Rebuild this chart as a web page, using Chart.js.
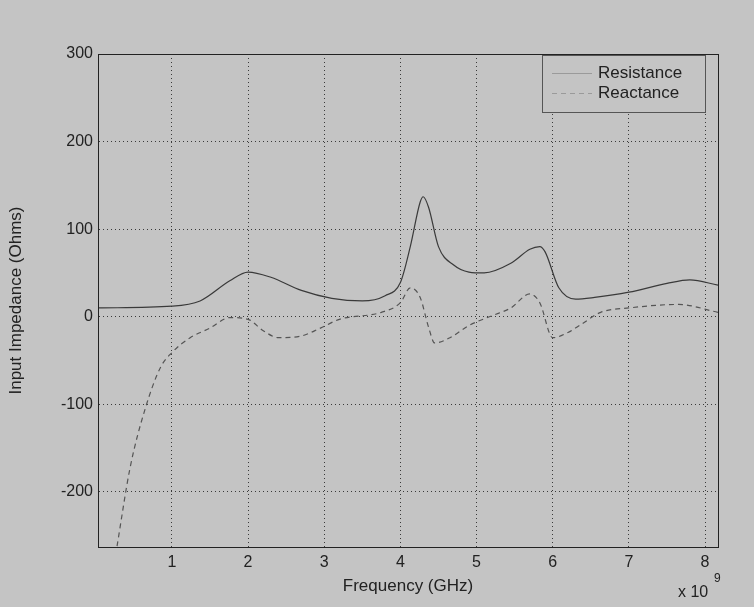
<!DOCTYPE html>
<html>
<head>
<meta charset="utf-8">
<script src="https://cdn.jsdelivr.net/npm/chart.js@4"></script>
<style>
  html, body { margin: 0; padding: 0; background: #c4c4c4; }
  #wrap { width: 754px; height: 607px; }
</style>
</head>
<body>
<div id="wrap"><canvas id="impChart" width="754" height="607"></canvas></div>
<script>
// Frequency in GHz (axis shows x 10^9 Hz)
const resFreq = [0.03, 1.0, 1.37, 1.76, 2.0, 2.3, 2.7, 3.1, 3.5, 3.8, 4.0, 4.13, 4.26, 4.3, 4.37, 4.5, 4.7, 4.9, 5.1, 5.45, 5.7, 5.83, 5.9, 6.08, 6.3, 6.55, 7.0, 7.5, 7.8, 8.17];
const resistance = [10, 12, 18, 41, 51, 45, 30, 21, 18, 24, 39, 80, 131, 137, 125, 80, 59, 51, 50, 61, 77, 80, 74, 33, 20, 22, 28, 38, 42, 36];

const reacFreq = [0.28, 0.45, 0.65, 0.85, 1.0, 1.24, 1.5, 1.76, 2.0, 2.2, 2.4, 2.7, 2.95, 3.2, 3.75, 4.0, 4.13, 4.26, 4.37, 4.45, 4.65, 4.9, 5.2, 5.45, 5.7, 5.83, 6.0, 6.2, 6.37, 6.63, 7.0, 7.65, 8.17];
const reactance = [-262, -173, -105, -58, -41, -24, -13, -1, -3, -16, -24, -22, -13, -3, 5, 16, 33, 22, -12, -30, -24, -10, 1, 10, 26, 16, -24, -18, -9, 5, 10, 14, 5];

const xTicks = [1, 2, 3, 4, 5, 6, 7, 8];
const yTicks = [-200, -100, 0, 100, 200, 300];

const toPts = (xs, ys) => xs.map((x, i) => ({ x: x, y: ys[i] }));
const FONT = '"Liberation Sans", Arial, sans-serif';

// box round the axes, legend and the exponent label
const decor = {
    id: 'decor',
    afterDraw(chart) {
        const c = chart.ctx;
        const a = chart.chartArea;
        c.save();
        c.strokeStyle = '#222';
        c.lineWidth = 1;
        c.strokeRect(Math.round(a.left) + 0.5, Math.round(a.top) + 0.5,
            Math.round(a.right - a.left), Math.round(a.bottom - a.top));

        // legend
        const lx = 542, ly = 55, lw = 163, lh = 57;
        c.fillStyle = '#c4c4c4';
        c.fillRect(lx, ly, lw, lh);
        c.strokeStyle = '#555';
        c.strokeRect(lx + 0.5, ly + 0.5, lw, lh);
        c.font = '17px ' + FONT;
        c.textBaseline = 'middle';
        chart.data.datasets.forEach((ds, i) => {
            const y = 73 + i * 20;
            c.strokeStyle = '#9a9a9a';
            c.setLineDash(ds.borderDash || []);
            c.beginPath();
            c.moveTo(552, y + 0.5);
            c.lineTo(592, y + 0.5);
            c.stroke();
            c.setLineDash([]);
            c.fillStyle = '#222';
            c.fillText(ds.label, 598, y);
        });

        // x 10^9
        c.fillStyle = '#222';
        c.font = '16px ' + FONT;
        c.fillText('x 10', 678, 593);
        c.font = '12px ' + FONT;
        c.fillText('9', 714, 579);
        c.restore();
    }
};

const gridStyle = { color: '#3a3a3a', lineWidth: 1, tickLength: 0, drawTicks: false };

new Chart(document.getElementById('impChart').getContext('2d'), {
    type: 'line',
    data: {
        datasets: [{
            label: 'Resistance',
            data: toPts(resFreq, resistance),
            borderColor: '#3a3a3a',
            borderWidth: 1.2,
            pointRadius: 0,
            cubicInterpolationMode: 'monotone',
            fill: false
        }, {
            label: 'Reactance',
            data: toPts(reacFreq, reactance),
            borderColor: '#555',
            borderWidth: 1.2,
            borderDash: [5, 4],
            pointRadius: 0,
            cubicInterpolationMode: 'monotone',
            fill: false
        }]
    },
    options: {
        responsive: false,
        animation: false,
        events: [],
        layout: { padding: { left: 0, right: 36, top: 54, bottom: 0 } },
        plugins: { legend: { display: false }, tooltip: { enabled: false } },
        scales: {
            x: {
                type: 'linear',
                min: 0.03,
                max: 8.17,
                afterBuildTicks: s => { s.ticks = xTicks.map(v => ({ value: v })); },
                afterFit: s => { s.height = 60; },
                grid: gridStyle,
                border: { display: true, color: '#222', dash: [1, 3] },
                ticks: {
                    color: '#222', padding: 6, maxRotation: 0,
                    font: { family: FONT, size: 16 }
                },
                title: {
                    display: true, text: 'Frequency (GHz)', color: '#222', padding: { top: 0, bottom: 10 },
                    font: { family: FONT, size: 17 }
                }
            },
            y: {
                min: -263,
                max: 300,
                afterBuildTicks: s => { s.ticks = yTicks.map(v => ({ value: v })); },
                afterFit: s => { s.width = 98; },
                grid: gridStyle,
                border: { display: true, color: '#222', dash: [1, 3] },
                ticks: {
                    color: '#222', padding: 5,
                    font: { family: FONT, size: 16 }
                },
                title: {
                    display: true, text: 'Input Impedance (Ohms)', color: '#222', padding: { top: 6, bottom: 2 },
                    font: { family: FONT, size: 17 }
                }
            }
        }
    },
    plugins: [decor]
});
</script>
</body>
</html>
